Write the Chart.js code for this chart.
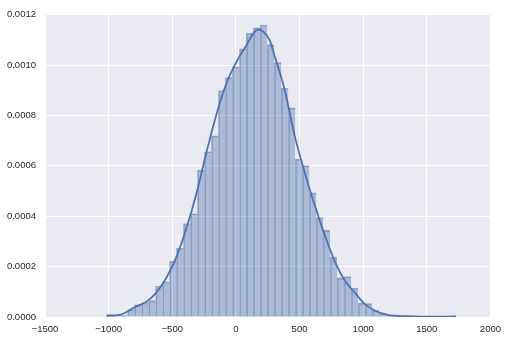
<!DOCTYPE html>
<html>
<head>
<meta charset="utf-8">
<script src="https://cdn.jsdelivr.net/npm/chart.js@4.4.1/dist/chart.umd.min.js"></script>
<style>
  html, body { margin: 0; padding: 0; background: #fff; }
  #wrap { width: 508px; height: 341px; position: relative; }
</style>
</head>
<body>
<div id="wrap"><canvas id="chart"></canvas></div>
<script>
// histogram bins (bin centres) and density heights
const binCenters = [
  -989, -934, -879, -824, -769, -714, -659, -604, -549, -494,
  -440, -385, -330, -275, -220, -165, -110, -55, 0, 55,
  109, 164, 219, 274, 329, 384, 439, 494, 549, 604,
  658, 713, 768, 823, 878, 933, 988, 1043, 1097, 1152,
  1207, 1262, 1317, 1372, 1427, 1482, 1537, 1591, 1646, 1701
];
const density = [
  0.000010, 0.000008, 0.000006, 0.000029, 0.000048, 0.000056, 0.000065, 0.000123, 0.000140, 0.000222,
  0.000273, 0.000371, 0.000410, 0.000583, 0.000656, 0.000719, 0.000899, 0.000950, 0.000993, 0.001065,
  0.001127, 0.001148, 0.001159, 0.001081, 0.001010, 0.000908, 0.000830, 0.000627, 0.000601, 0.000493,
  0.000395, 0.000344, 0.000238, 0.000155, 0.000160, 0.000114, 0.000055, 0.000053, 0.000026, 0.000013,
  0.000006, 0.000004, 0.000002, 0.000002, 0.000001, 0, 0, 0, 0, 0.000001
];

// kde curve
const kdeX = [
  -1016, -911, -859, -781, -702, -624, -545, -467, -388, -310,
  -231, -153, -74, 4, 82, 135, 174, 213, 266, 305,
  383, 462, 540, 619, 697, 776, 854, 933, 1011, 1090,
  1194, 1351, 1534, 1730
];
const kdeY = [
  0.000005, 0.000008, 0.000020, 0.000043, 0.000061, 0.000098, 0.000157, 0.000239, 0.000353, 0.000490,
  0.000654, 0.000804, 0.000928, 0.001013, 0.001078, 0.001124, 0.001141, 0.001134, 0.001098, 0.001035,
  0.000902, 0.000719, 0.000575, 0.000444, 0.000327, 0.000222, 0.000146, 0.000098, 0.000052, 0.000026,
  0.000008, 0.000003, 0.000001, 0.000002
];

const xTicks = [-1500, -1000, -500, 0, 500, 1000, 1500, 2000];
const yTicks = [0, 0.0002, 0.0004, 0.0006, 0.0008, 0.0010, 0.0012];

const deep = '#4C72B0';
const tickFont = { family: "'Liberation Sans', Arial, sans-serif", size: 9.5 };

const plotBg = {
  id: 'plotBg',
  beforeDraw(chart) {
    const { ctx, chartArea: a } = chart;
    ctx.save();
    ctx.fillStyle = '#EAEAF2';
    ctx.fillRect(a.left, a.top, a.right - a.left, a.bottom - a.top);
    ctx.restore();
  }
};

new Chart(document.getElementById('chart'), {
  type: 'bar',
  data: {
    datasets: [
      {
        type: 'line',
        data: kdeX.map((x, i) => ({ x, y: kdeY[i] })),
        borderColor: deep,
        borderWidth: 1.8,
        pointRadius: 0,
        tension: 0.4,
        cubicInterpolationMode: 'monotone',
        fill: false,
        order: 0
      },
      {
        type: 'bar',
        data: binCenters.map((x, i) => ({ x, y: density[i] })),
        backgroundColor: 'rgba(76,114,176,0.4)',
        borderColor: 'rgba(60,90,140,0.45)',
        borderWidth: { top: 1, left: 1, right: 0, bottom: 0 },
        borderSkipped: false,
        barPercentage: 1,
        categoryPercentage: 1,
        order: 1
      }
    ]
  },
  plugins: [plotBg],
  options: {
    responsive: true,
    maintainAspectRatio: false,
    animation: false,
    events: [],
    layout: { padding: { top: 12, right: 17, left: 0, bottom: 0 } },
    plugins: {
      legend: { display: false },
      tooltip: { enabled: false }
    },
    scales: {
      x: {
        type: 'linear',
        min: -1500,
        max: 2000,
        offset: false,
        afterBuildTicks(scale) {
          scale.ticks = xTicks.map(v => ({ value: v }));
        },
        afterFit(scale) { scale.height = 24; },
        grid: { color: '#ffffff', lineWidth: 1, drawTicks: false, offset: false },
        border: { display: false },
        ticks: {
          color: '#262626',
          font: tickFont,
          padding: 7,
          maxRotation: 0,
          callback: v => String(v).replace('-', '\u2212')
        }
      },
      y: {
        min: 0,
        max: 0.0012,
        afterBuildTicks(scale) {
          scale.ticks = yTicks.map(v => ({ value: v }));
        },
        afterFit(scale) { scale.width = 45; },
        grid: { color: '#ffffff', lineWidth: 1, drawTicks: false },
        border: { display: false },
        ticks: {
          color: '#262626',
          font: tickFont,
          padding: 9,
          callback: v => v.toFixed(4)
        }
      }
    }
  }
});
</script>
</body>
</html>
